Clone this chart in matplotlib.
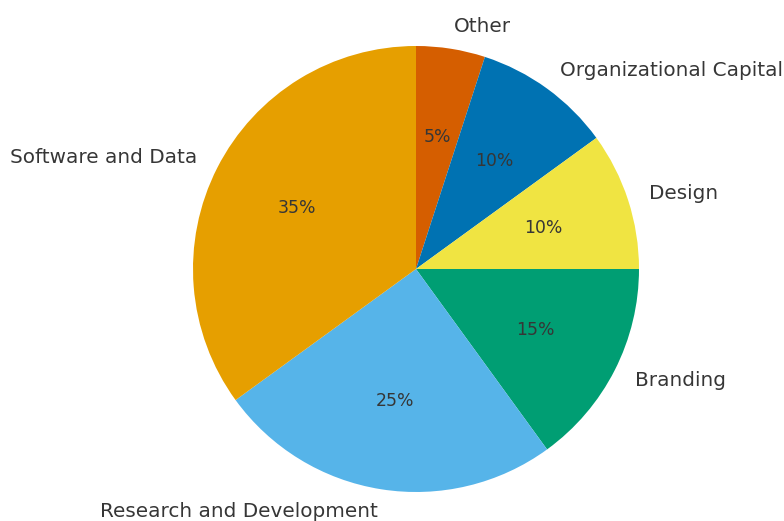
import matplotlib
matplotlib.use("Agg")
import matplotlib.pyplot as plt

categories = ["Other", "Organizational Capital", "Design", "Branding",
              "Research and Development", "Software and Data"]
values = [5, 10, 10, 15, 25, 35]
colors = ["#D55E00", "#0072B2", "#F0E442", "#009E73", "#56B4E9", "#E69F00"]

W, H, DPI = 784, 521, 100
cx, cy, R = 416, 269, 223

fig = plt.figure(figsize=(W / DPI, H / DPI), dpi=DPI)
ax = fig.add_axes([0, 0, 1, 1])
wedges, texts, autotexts = ax.pie(
    values, labels=categories, colors=colors, autopct="%1.0f%%",
    startangle=90, counterclock=False,
    textprops={"color": "#363636", "fontsize": 14.45},
)
for t in autotexts:
    t.set_fontsize(12.4)
ax.set_xlim(-cx / R, (W - cx) / R)
ax.set_ylim(-(H - cy) / R, cy / R)
ax.set_aspect("equal")
ax.axis("off")
fig.savefig("out.png", dpi=DPI)
